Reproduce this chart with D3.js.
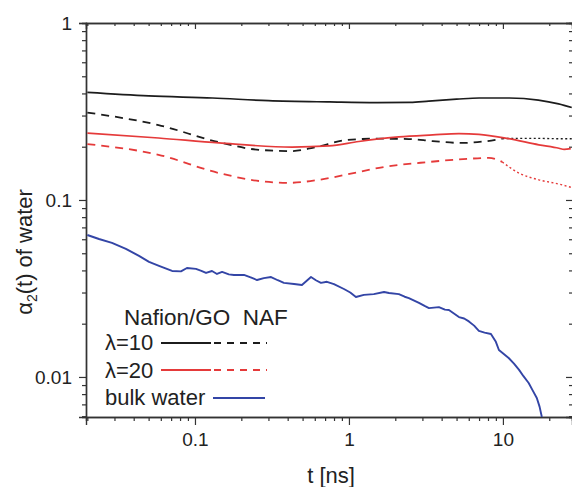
<!DOCTYPE html>
<html><head><meta charset="utf-8">
<script src="https://cdn.jsdelivr.net/npm/d3@7"></script>
<style>
body{margin:0;background:#fff}
text{font-family:"Liberation Sans",Arial,sans-serif;fill:#222}
</style>
</head><body>
<svg id="c" width="572" height="487"></svg>
<script>
// ---- data (t in ns, alpha2 values) ----
const tGO10 = [0.02,0.05,0.13,0.3,0.75,1.5,2.5,3.3,5,7,11,17,23,28];
const aGO10 = [0.405,0.387,0.377,0.364,0.358,0.355,0.356,0.362,0.371,0.377,0.377,0.367,0.349,0.333];

const tNAF10 = [0.02,0.058,0.143,0.26,0.427,0.61,0.956,1.5,2.45,3.5,5.42,7.5,9.9,12,17,22,28];
const aNAF10 = [0.312,0.265,0.212,0.192,0.189,0.199,0.218,0.222,0.221,0.215,0.21,0.214,0.222,0.223,0.223,0.222,0.222];

const tGO20 = [0.02,0.058,0.143,0.427,0.742,1.16,2.11,3.5,5.18,6.98,10.9,17.1,23.1,25,27.6];
const aGO20 = [0.239,0.224,0.21,0.199,0.202,0.214,0.227,0.233,0.237,0.235,0.222,0.205,0.196,0.193,0.195];

const tNAF20 = [0.02,0.058,0.143,0.26,0.408,0.638,1.16,1.57,3.31,6.0,8.1,9.9,12.7,17.1,23.1,27.6];
const aNAF20 = [0.207,0.18,0.142,0.128,0.125,0.13,0.144,0.152,0.164,0.171,0.173,0.164,0.142,0.13,0.123,0.118];

const tBulk = [0.02,0.0238,0.0289,0.0356,0.0433,0.0503,0.0584,0.071,0.0811,0.0887,0.1015,0.11,0.118,0.129,0.139,0.15,0.166,0.179,0.208,0.23,0.253,0.28,0.312,0.345,0.378,0.44,0.495,0.567,0.61,0.658,0.72,0.799,0.928,1.02,1.11,1.25,1.45,1.69,1.82,2.11,2.3,2.45,2.85,3.1,3.31,3.84,4.2,4.46,5.18,5.6,6.01,6.5,6.98,7.6,8.36,9.0,9.42,10.9,11.8,12.7,13.6,14.7,15.6,16.6,17.3,17.9];
const aBulk = [0.0634,0.0602,0.0572,0.0529,0.0483,0.0447,0.0424,0.0397,0.0395,0.0413,0.0408,0.0398,0.0387,0.0397,0.0382,0.0392,0.0380,0.0377,0.0377,0.0365,0.0353,0.0362,0.0367,0.0352,0.0340,0.0335,0.0331,0.0367,0.0352,0.0340,0.0345,0.0335,0.0314,0.0300,0.0283,0.0291,0.0294,0.0302,0.0298,0.0294,0.0284,0.0279,0.0262,0.0252,0.0245,0.0248,0.0240,0.0239,0.0218,0.0214,0.0206,0.0195,0.0182,0.0178,0.0175,0.0158,0.0142,0.0128,0.0119,0.0110,0.0101,0.00925,0.0084,0.00761,0.0068,0.00594];

const xMajor = [0.1, 1, 10];
const xMajorLabels = ["0.1", "1", "10"];
const yMajor = [0.01, 0.1, 1];
const yMajorLabels = ["0.01", "0.1", "1"];

const legendHeader = "Nafion/GO  NAF";
const legendRows = ["λ=10", "λ=20", "bulk water"];
const dottedFrom = 9.9;

// ---- layout ----
const svg = d3.select("#c");
const L = 86, R = 572, T = 23, B = 417;
const x = d3.scaleLog().domain([0.0196, 28.1]).range([L, R]);
const y = d3.scaleLog().domain([0.00594, 1]).range([B, T]);

const black = "#1c1c1c", red = "#e53a3a", blue = "#3345a6";

svg.append("defs").append("clipPath").attr("id","clip")
  .append("rect").attr("x",L).attr("y",T).attr("width",R-L+2).attr("height",B-T);

function minorTicks(scale, majors){
  return scale.ticks().filter(v => !majors.some(m => Math.abs(m - v)/m < 1e-6));
}
const xMinor = minorTicks(x, xMajor);
const yMinor = minorTicks(y, yMajor);

function styleAxis(g){
  g.select(".domain").attr("stroke","#333").attr("stroke-width",1.4);
  g.selectAll(".tick line").attr("stroke","#333").attr("stroke-width",1.2);
  g.selectAll("text").style("font-size","19px").attr("fill","#222");
}

// bottom
svg.append("g").attr("transform",`translate(0,${B})`)
  .call(d3.axisBottom(x).tickValues(xMinor).tickSize(4).tickFormat("")).call(styleAxis);
svg.append("g").attr("transform",`translate(0,${B})`)
  .call(d3.axisBottom(x).tickValues(xMajor).tickSize(8).tickPadding(8)
    .tickFormat((d,i)=>xMajorLabels[i])).call(styleAxis);
// top (inward)
svg.append("g").attr("transform",`translate(0,${T})`)
  .call(d3.axisTop(x).tickValues(xMinor).tickSize(-3).tickFormat("")).call(styleAxis);
svg.append("g").attr("transform",`translate(0,${T})`)
  .call(d3.axisTop(x).tickValues(xMajor).tickSize(-6).tickFormat("")).call(styleAxis);
// left
svg.append("g").attr("transform",`translate(${L},0)`)
  .call(d3.axisLeft(y).tickValues(yMinor).tickSize(4).tickFormat("")).call(styleAxis);
svg.append("g").attr("transform",`translate(${L},0)`)
  .call(d3.axisLeft(y).tickValues(yMajor).tickSize(7).tickPadding(7)
    .tickFormat((d,i)=>yMajorLabels[i])).call(styleAxis);
// right (inward, axis line just beyond the picture edge)
svg.append("g").attr("transform",`translate(${R+1},0)`)
  .call(d3.axisRight(y).tickValues(yMinor).tickSize(-4).tickFormat("")).call(styleAxis);
svg.append("g").attr("transform",`translate(${R+1},0)`)
  .call(d3.axisRight(y).tickValues(yMajor).tickSize(-7).tickFormat("")).call(styleAxis);

// axis titles
svg.append("text").attr("x", 331).attr("y", 483).attr("text-anchor","middle")
  .style("font-size","22px").text("t [ns]");
const yl = svg.append("text").attr("transform","translate(32,252) rotate(-90)")
  .attr("text-anchor","middle").style("font-size","22px");
yl.append("tspan").text("α");
yl.append("tspan").attr("dy",5).style("font-size","14px").text("2");
yl.append("tspan").attr("dy",-5).text("(t) of water");

// lines
const line = d3.line().x(d=>x(d[0])).y(d=>y(d[1])).curve(d3.curveMonotoneX);
const plot = svg.append("g").attr("clip-path","url(#clip)");
function zip(ts, as){ return ts.map((t,i)=>[t, as[i]]); }

function draw(data, color, dash, w){
  plot.append("path").datum(data).attr("d", line).attr("fill","none")
    .attr("stroke", color).attr("stroke-width", w || 1.7)
    .attr("stroke-dasharray", dash || null);
}
function drawSplit(data, color){
  draw(data.filter(d=>d[0] <= dottedFrom), color, "8,6", 1.8);
  draw(data.filter(d=>d[0] >= dottedFrom), color, "2,2.5", 1.4);
}

draw(zip(tGO10, aGO10), black);
drawSplit(zip(tNAF10, aNAF10), black);
draw(zip(tGO20, aGO20), red);
drawSplit(zip(tNAF20, aNAF20), red);
plot.append("path").datum(zip(tBulk, aBulk)).attr("d", d3.line().x(d=>x(d[0])).y(d=>y(d[1])))
  .attr("fill","none").attr("stroke", blue).attr("stroke-width",1.9).attr("stroke-linejoin","round");

// legend
const lg = svg.append("g");
lg.append("text").attr("x",124).attr("y",325).style("font-size","22.5px").attr("xml:space","preserve").text(legendHeader);
const rowY = [350, 378, 405];
lg.selectAll("text.row").data(legendRows).enter().append("text").attr("class","row")
  .attr("x",105).attr("y",(d,i)=>rowY[i]).style("font-size","22px").text(d=>d);
function lgLine(x1,x2,yy,color,dash){
  lg.append("line").attr("x1",x1).attr("x2",x2).attr("y1",yy).attr("y2",yy)
    .attr("stroke",color).attr("stroke-width",1.8).attr("stroke-dasharray",dash||null);
}
lgLine(161,211,343,black); lgLine(214,267,343,black,"7,6");
lgLine(161,211,370,red);   lgLine(214,267,370,red,"7,6");
lgLine(213,265,398,blue);
</script>
</body></html>
